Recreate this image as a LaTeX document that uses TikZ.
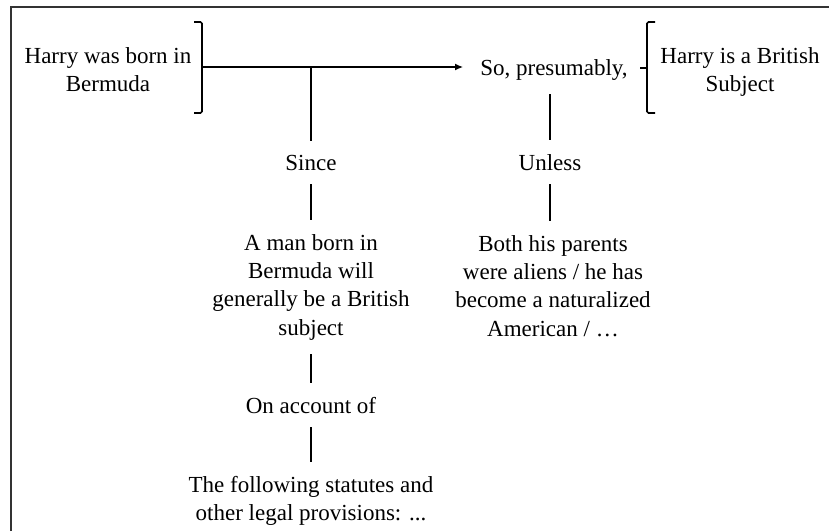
\documentclass[tikz,border=0pt]{standalone}
\usepackage{fontspec}
\setmainfont{Liberation Serif}
\usepackage{tikz}
\usetikzlibrary{arrows.meta,positioning,calc}
\newcommand{\argfont}{\fontsize{23}{28.3}\selectfont}

\begin{document}
\begin{tikzpicture}[x=1pt,y=-1pt,
  txt/.style={font=\argfont,align=center,inner xsep=0pt,inner ysep=14pt},
  link/.style={line width=1.6pt},
  brack/.style={line width=1.6pt,rounded corners=1.5pt}]
  \useasboundingbox (0,0) rectangle (829,531);
  \draw[line width=1.8pt,black!80] (11,531) -- (11,7) -- (829,7);
  % data, qualifier and claim
  \node[txt,anchor=north] (datum) at (108,33) {Harry was born in\\Bermuda};
  \node[txt,anchor=base,inner xsep=17pt] (pres) at (554,75) {So, presumably,};
  \node[txt,anchor=north] (claim) at (740,33) {Harry is a British\\Subject};
  \coordinate (jn) at (202,67);
  \coordinate (sj) at (311,67);
  \draw[brack] (194,22) -- (202,22) -- (202,113) -- (194,113);
  \draw[brack] (655,22) -- (647,22) -- (647,113) -- (655,113);
  \draw[brack] (647,68) -- (640,68);
  \draw[link,-{Latex[length=8pt,width=7pt]}] (jn) -- (jn -| pres.west);
  % warrant and backing
  \node[txt,anchor=base] (since) at (311,170) {Since};
  \node[txt,anchor=north] (warrant) at (311,220) {A man born in\\Bermuda will\\generally be a British\\subject};
  \node[txt,anchor=base] (account) at (311,413) {On account of};
  \node[txt,anchor=north] (backing) at (311,462) {The following statutes and\\other legal provisions: ...};
  \draw[link] (sj) -- (since);
  \draw[link] (since) -- (warrant);
  \draw[link] (warrant) -- (account);
  \draw[link] (account) -- (backing);
  % rebuttal
  \node[txt,anchor=base] (unless) at (550,170) {Unless};
  \node[txt,anchor=north] (rebuttal) at (553,221) {Both his parents\\were aliens / he has\\become a naturalized\\American / …};
  \draw[link] (unless.north |- pres.south) -- (unless.north);
  \draw[link] (unless.south) -- (unless.south |- rebuttal.north);
\end{tikzpicture}
\end{document}
